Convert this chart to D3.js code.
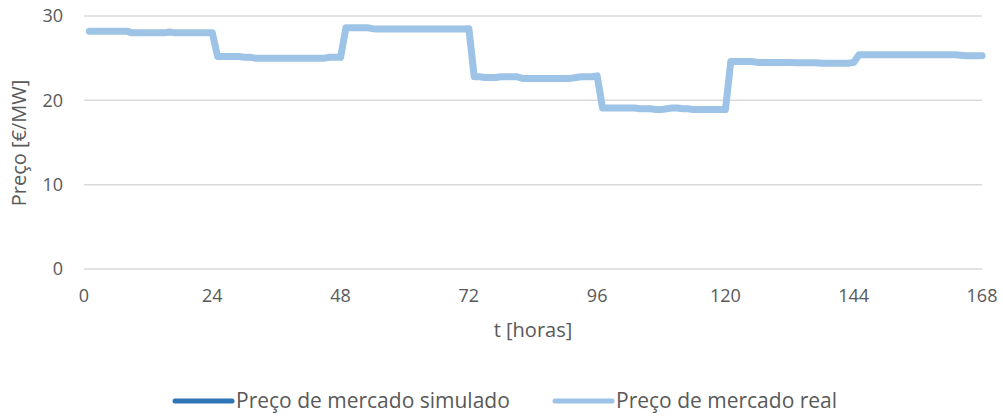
<!DOCTYPE html>
<html>
<head>
<meta charset="utf-8">
<script src="https://cdn.jsdelivr.net/npm/d3@7"></script>
<style>
  body { margin: 0; background: #fff; }
  svg text { font-family: "Open Sans", sans-serif; fill: #595959; }
</style>
</head>
<body>
<div id="chart"></div>
<script>
// hourly prices, hours 1..168
var hours = d3.range(1, 169)

var realPrice = [
  28.2,28.2,28.2,28.2,28.2,28.2,28.2,28.2,28.0,28.0,28.0,28.0,28.0,28.0,28.0,28.1,28.0,28.0,28.0,28.0,28.0,28.0,28.0,28.0,
  25.2,25.2,25.2,25.2,25.2,25.1,25.1,25.0,25.0,25.0,25.0,25.0,25.0,25.0,25.0,25.0,25.0,25.0,25.0,25.0,25.0,25.1,25.1,25.1,
  28.6,28.6,28.6,28.6,28.6,28.5,28.45,28.45,28.45,28.45,28.45,28.45,28.45,28.45,28.45,28.45,28.45,28.45,28.45,28.45,28.45,28.45,28.45,28.5,
  22.8,22.8,22.7,22.7,22.7,22.8,22.8,22.8,22.8,22.6,22.6,22.6,22.6,22.6,22.6,22.6,22.6,22.6,22.6,22.7,22.8,22.8,22.8,22.9,
  19.1,19.1,19.1,19.1,19.1,19.1,19.1,19.0,19.0,19.0,18.9,18.9,19.0,19.1,19.1,19.0,19.0,18.9,18.9,18.9,18.9,18.9,18.9,18.9,
  24.6,24.6,24.6,24.6,24.6,24.5,24.5,24.5,24.5,24.5,24.5,24.5,24.45,24.45,24.45,24.45,24.45,24.4,24.4,24.4,24.4,24.4,24.4,24.5,
  25.4,25.4,25.4,25.4,25.4,25.4,25.4,25.4,25.4,25.4,25.4,25.4,25.4,25.4,25.4,25.4,25.4,25.4,25.4,25.35,25.3,25.3,25.3,25.3
]

var simPrice = [
  28.2,28.2,28.2,28.2,28.2,28.2,28.2,28.2,28.0,28.0,28.0,28.0,28.0,28.0,28.0,28.1,28.0,28.0,28.0,28.0,28.0,28.0,28.0,28.0,
  25.2,25.2,25.2,25.2,25.2,25.1,25.1,25.0,25.0,25.0,25.0,25.0,25.0,25.0,25.0,25.0,25.0,25.0,25.0,25.0,25.0,25.1,25.1,25.1,
  28.6,28.6,28.6,28.6,28.6,28.5,28.45,28.45,28.45,28.45,28.45,28.45,28.45,28.45,28.45,28.45,28.45,28.45,28.45,28.45,28.45,28.45,28.45,28.5,
  22.7,22.7,22.7,22.7,22.7,22.8,22.8,22.8,22.8,22.6,22.6,22.6,22.6,22.6,22.6,22.6,22.6,22.6,22.6,22.7,22.8,22.8,22.8,22.9,
  19.1,19.1,19.1,19.1,19.1,19.1,19.1,19.0,19.0,19.0,18.9,18.9,19.0,19.1,19.1,19.0,19.0,18.9,18.9,18.9,18.9,18.9,18.9,18.9,
  24.6,24.6,24.6,24.6,24.6,24.5,24.5,24.5,24.5,24.5,24.5,24.5,24.45,24.45,24.45,24.45,24.45,24.4,24.4,24.4,24.4,24.4,24.4,24.5,
  25.4,25.4,25.4,25.4,25.4,25.4,25.4,25.4,25.4,25.4,25.4,25.4,25.4,25.4,25.4,25.4,25.4,25.4,25.4,25.35,25.3,25.3,25.3,25.3
]

var xTicks = [0, 24, 48, 72, 96, 120, 144, 168]
var yTicks = [0, 10, 20, 30]
var seriesNames = ["Preço de mercado simulado", "Preço de mercado real"]
var seriesColors = ["#2e75b6", "#9dc3e6"]

var width = 1003, height = 416
var margin = {top: 16, right: 21, bottom: 147, left: 84}

var svg = d3.select("#chart").append("svg")
    .attr("width", width)
    .attr("height", height)

var x = d3.scaleLinear().domain([0, 168]).range([margin.left, width - margin.right])
var y = d3.scaleLinear().domain([0, 30]).range([height - margin.bottom, margin.top])

// gridlines
svg.append("g").selectAll("line")
    .data(yTicks)
  .enter().append("line")
    .attr("x1", x(0))
    .attr("x2", x(168))
    .attr("y1", function(d) { return y(d) })
    .attr("y2", function(d) { return y(d) })
    .style("stroke", "#d9d9d9")
    .style("stroke-width", 1.5)

// y tick labels
svg.append("g").selectAll("text")
    .data(yTicks)
  .enter().append("text")
    .attr("x", 63)
    .attr("y", function(d) { return y(d) })
    .attr("dy", "0.35em")
    .attr("text-anchor", "end")
    .style("font-size", "18px")
    .text(function(d) { return d })

// x tick labels
svg.append("g").selectAll("text")
    .data(xTicks)
  .enter().append("text")
    .attr("x", function(d) { return x(d) })
    .attr("y", 296)
    .attr("dy", "0.35em")
    .attr("text-anchor", "middle")
    .style("font-size", "18px")
    .text(function(d) { return d })

// axis titles
svg.append("text")
    .attr("x", (x(0) + x(168)) / 2)
    .attr("y", 330)
    .attr("dy", "0.35em")
    .attr("text-anchor", "middle")
    .style("font-size", "20px")
    .text("t [horas]")

svg.append("text")
    .attr("transform", "translate(19," + 143 + ") rotate(-90)")
    .attr("dy", "0.35em")
    .attr("text-anchor", "middle")
    .style("font-size", "20px")
    .text("Preço [€/MW]")

// lines
var line = d3.line()
    .x(function(d, i) { return x(hours[i]) })
    .y(function(d) { return y(d) })

svg.append("path")
    .datum(simPrice)
    .attr("d", line)
    .style("fill", "none")
    .style("stroke", seriesColors[0])
    .style("stroke-width", 5)
    .style("stroke-linejoin", "round")
    .style("stroke-linecap", "round")

svg.append("path")
    .datum(realPrice)
    .attr("d", line)
    .style("fill", "none")
    .style("stroke", seriesColors[1])
    .style("stroke-width", 7)
    .style("stroke-linejoin", "round")
    .style("stroke-linecap", "round")

// legend
var legendX = [175, 555]
var legend = svg.append("g").selectAll("g")
    .data(seriesNames)
  .enter().append("g")
    .attr("transform", function(d, i) { return "translate(" + legendX[i] + ",401)" })

legend.append("line")
    .attr("x1", 0)
    .attr("x2", 57)
    .style("stroke", function(d, i) { return seriesColors[i] })
    .style("stroke-width", 5)
    .style("stroke-linecap", "round")

legend.append("text")
    .attr("x", 61)
    .attr("dy", "0.35em")
    .style("font-size", "21px")
    .text(function(d) { return d })
</script>
</body>
</html>
